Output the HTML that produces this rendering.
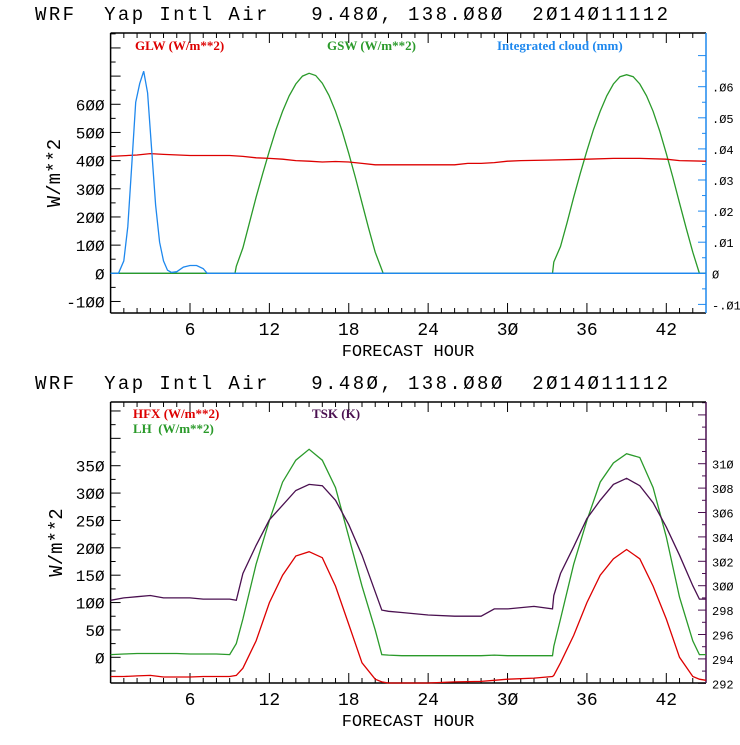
<!DOCTYPE html>
<html><head><meta charset="utf-8"><style>
body{margin:0;background:#fff}
svg text{font-family:"Liberation Mono",monospace;white-space:pre}
.lg{font-family:"Liberation Serif",serif;font-weight:bold;font-size:13px}
</style></head><body>
<svg id="c" width="740" height="740" xmlns="http://www.w3.org/2000/svg" xml:space="preserve"></svg>
<script>
const hours=[0,1,2,3,4,5,6,7,8,9,9.5,10,11,12,13,14,15,16,17,18,19,20,20.5,21,22,24,26,28,29,30,32,33.4,33.5,34,35,36,37,38,39,40,41,42,43,44,44.5,45];
const cloudHours=[0,0.6,1,1.3,1.6,1.9,2.2,2.5,2.8,3.1,3.4,3.7,4,4.3,4.6,5,5.5,6,6.5,7,7.3,8,45];
const cloudVals=[0,0,0.004,0.015,0.035,0.055,0.061,0.065,0.058,0.04,0.022,0.01,0.004,0.001,0.0003,0.0005,0.002,0.0025,0.0025,0.0015,0,0,0];
const gswHours=[0,9.4,9.5,10,10.5,11,11.5,12,12.5,13,13.5,14,14.5,15,15.5,16,16.5,17,17.5,18,18.5,19,19.5,20,20.6,33.4,33.5,34,34.5,35,35.5,36,36.5,37,37.5,38,38.5,39,39.5,40,40.5,41,41.5,42,42.5,43,43.5,44,44.5,45];
const gswVals=[0,0,25,90,180,270,355,435,510,575,630,672,700,710,702,675,632,575,505,425,340,250,160,75,0,0,40,95,180,270,355,435,510,575,630,672,698,705,698,672,630,575,505,425,340,250,160,75,0,0];
const glwHours=[0,2,3,4,6,9,10,11,12,13,14,15,16,17,18,19,20,22,24,26,27,28,29,30,31,33,36,38,40,42,43,45];
const glwVals=[415,420,425,422,418,418,415,410,408,405,400,398,395,397,395,390,385,385,385,385,390,390,393,398,400,402,405,408,408,405,400,398];
const tskVals=[298.8,299.0,299.1,299.2,299.0,299.0,299.0,298.9,298.9,298.9,298.8,301,303.3,305.4,306.6,307.8,308.3,308.2,307.0,305.0,302.5,299.5,298.0,297.9,297.8,297.6,297.5,297.5,298.1,298.1,298.3,298.1,299.2,301,303.2,305.5,307.0,308.3,308.8,308.2,306.8,304.8,302.5,300.0,298.9,298.9];
const lhVals=[5,6,7,7,7,7,6,6,6,5,25,70,170,250,320,360,380,360,310,220,130,50,5,4,3,3,3,3,4,3,3,3,20,70,170,250,320,355,372,365,310,220,110,30,5,5];
const hfxVals=[-35,-35,-34,-33,-36,-36,-36,-35,-35,-35,-33,-20,30,100,150,185,193,182,130,60,-10,-40,-45,-47,-47,-47,-45,-44,-42,-40,-38,-35,-33,-10,40,100,150,180,197,180,130,70,0,-35,-40,-42];
const topYTicks=["-100","0","100","200","300","400","500","600"];
const topRTicks=["-.01","0",".01",".02",".03",".04",".05",".06"];
const botYTicks=["0","50","100","150","200","250","300","350"];
const botRTicks=["292","294","296","298","300","302","304","306","308","310"];
const xTicks=["6","12","18","24","30","36","42"];

const svg=document.getElementById('c');const NS="http://www.w3.org/2000/svg";
function mk(t,a,p,txt){const e=document.createElementNS(NS,t);for(const k in a)e.setAttribute(k,a[k]);if(txt!==undefined)e.textContent=txt;(p||svg).appendChild(e);return e;}
const X0=110.6,X1=706,xs=h=>X0+h*(X1-X0)/45;

function panel(o){
  const g=mk('g',{});
  const ys=v=>o.y0px-(v-o.ymin0)*o.k, yr=v=>o.r0px-(v-o.rmin0)*o.rk;
  const t=mk('text',{x:35,y:o.top-13,'font-size':19,textLength:633,lengthAdjust:'spacing'},g,"WRF  Yap Intl Air   9.48Ø, 138.Ø8Ø  2Ø14Ø11112");
  for(let h=1;h<45;h++){const L=h%6?5:10;mk('line',{x1:xs(h),x2:xs(h),y1:o.bot,y2:o.bot-L,stroke:'#000'},g);mk('line',{x1:xs(h),x2:xs(h),y1:o.top,y2:o.top+L,stroke:'#000'},g);}
  xTicks.forEach(s=>{const e=mk('text',{x:xs(+s),y:o.bot+22,'font-size':18,'text-anchor':'middle'},g,s.replace(/0/g,'Ø'));});
  const xl=mk('text',{x:408,y:o.bot+43,'font-size':17,'text-anchor':'middle'},g,"FORECAST HOUR");
  for(let v=o.lstart;v<=o.lmax;v+=o.lminor){const y=ys(v);if(y<o.top||y>o.bot)continue;const L=(Math.round(v/o.lminor)%2==0)?10:5;mk('line',{x1:X0,x2:X0+L,y1:y,y2:y,stroke:'#000'},g);}
  o.ylab.forEach(s=>{const e=mk('text',{x:X0-6,y:ys(+s)+6,'font-size':16,'text-anchor':'end'},g,s.replace(/0/g,'Ø'));});
  const yl=mk('text',{x:0,y:0,'font-size':19,'text-anchor':'middle',transform:`translate(${o.yTitleX},${(o.top+o.bot)/2}) rotate(-90)`},g,"W/m**2");
  for(let v=o.rstart;v<=o.rmax+1e-9;v+=o.rminor){const y=yr(v);if(y<o.top-0.5||y>o.bot+0.5)continue;const L=(Math.round(v/o.rminor)%2==0)?8:4;mk('line',{x1:X1,x2:X1-L,y1:y,y2:y,stroke:o.rcol},g);}
  o.rlab.forEach(s=>{const e=mk('text',{x:X1+6,y:yr(+s)+5,'font-size':12},g,s.replace(/0/g,'Ø'));});
  mk('line',{x1:X0,x2:X1,y1:o.top,y2:o.top,stroke:'#000','stroke-width':1.5},g);
  mk('line',{x1:X0,x2:X1,y1:o.bot,y2:o.bot,stroke:'#000','stroke-width':1.5},g);
  mk('line',{x1:X0,x2:X0,y1:o.top,y2:o.bot,stroke:'#000','stroke-width':1.5},g);
  mk('line',{x1:X1,x2:X1,y1:o.top,y2:o.bot,stroke:o.rcol,'stroke-width':1.5},g);
  o.series.forEach(s=>{const sc=s.right?yr:ys;const d=s.h.map((h,i)=>(i?'L':'M')+xs(h).toFixed(1)+','+Math.min(o.bot,Math.max(o.top,sc(s.v[i]))).toFixed(1)).join('');const p=mk('path',{d,fill:'none',stroke:s.c,'stroke-width':1.3},g);});
  o.legend.forEach(l=>{const e=mk('text',{x:l.x,y:l.y,fill:l.c,class:'lg'},g,l.t);});
}
panel({name:'top-panel',top:33,bot:313,y0px:273.3,ymin0:0,k:0.2817,r0px:273.3,rmin0:0,rk:3110,
  lstart:-150,lmax:900,lminor:50,rstart:-0.015,rmax:0.07,rminor:0.005,rcol:'#1e88ee',
  ylab:topYTicks,rlab:topRTicks,yTitleX:60,
  series:[{name:'zero-line',h:[0,45],v:[0,0],c:'#1e88ee'},{name:'gsw-line',h:gswHours,v:gswVals,c:'#2a9a2a'},{name:'glw-line',h:glwHours,v:glwVals,c:'#dd0000'},{name:'cloud-line',h:cloudHours,v:cloudVals,c:'#1e88ee',right:true}],
  legend:[{x:135,y:50,c:'#dd0000',t:'GLW (W/m**2)'},{x:327,y:50,c:'#2a9a2a',t:'GSW (W/m**2)'},{x:497,y:50,c:'#1e88ee',t:'Integrated cloud (mm)'}]});
panel({name:'bottom-panel',top:402,bot:683,y0px:657.3,ymin0:0,k:27.37/50,r0px:683.3,rmin0:292,rk:12.2,
  lstart:-50,lmax:500,lminor:25,rstart:292,rmax:316,rminor:1,rcol:'#4a1050',
  ylab:botYTicks,rlab:botRTicks,yTitleX:62,
  series:[{name:'hfx-line',h:hours,v:hfxVals,c:'#dd0000'},{name:'lh-line',h:hours,v:lhVals,c:'#2a9a2a'},{name:'tsk-line',h:hours,v:tskVals,c:'#4a1050',right:true}],
  legend:[{x:133,y:418,c:'#dd0000',t:'HFX (W/m**2)'},{x:133,y:433,c:'#2a9a2a',t:'LH  (W/m**2)'},{x:312,y:418,c:'#4a1050',t:'TSK (K)'}]});
</script></body></html>
